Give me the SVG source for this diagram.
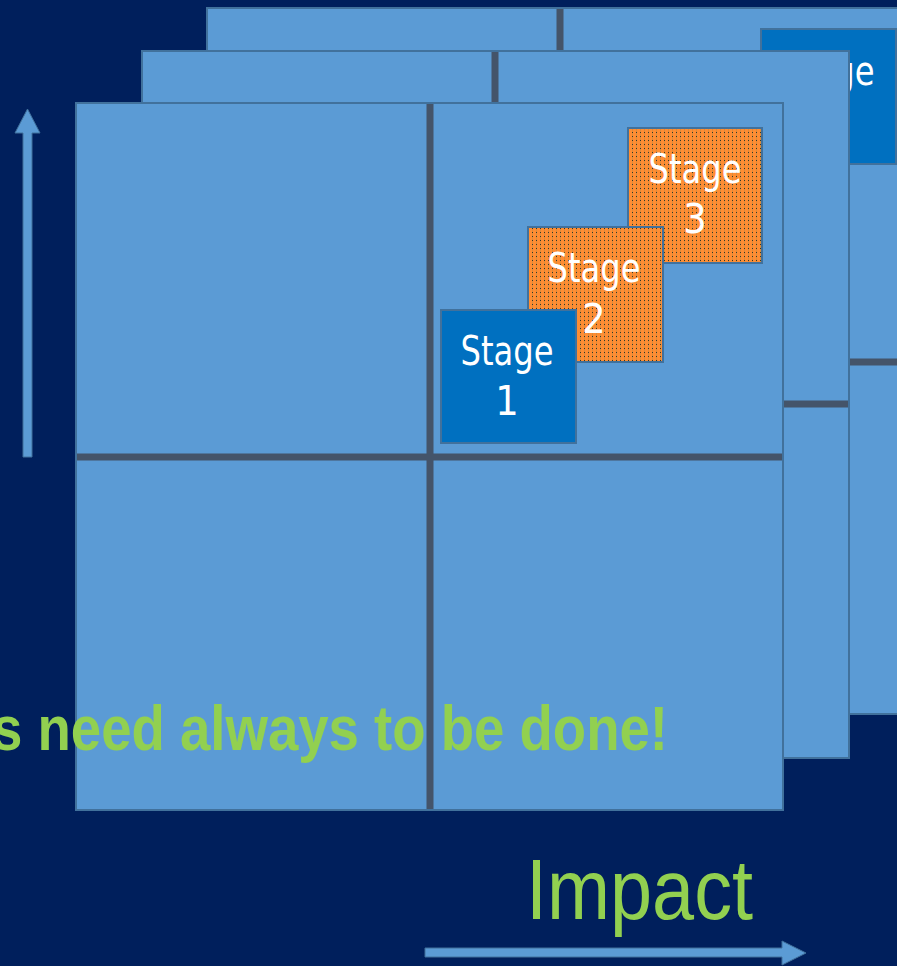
<svg xmlns="http://www.w3.org/2000/svg" width="897" height="966" viewBox="0 0 897 966">
  <style>
    .panel { fill: #5b9bd5; stroke: #41719c; stroke-width: 2; }
    .divider { stroke: #44546a; stroke-width: 7; }
    .stage-blue { fill: #0070c0; stroke: #41719c; stroke-width: 2; }
    .stage-orange { fill: url(#dots); stroke: #41719c; stroke-width: 2; }
    .stage-text { fill: #ffffff; font-family: "DejaVu Sans Condensed", "Liberation Sans", sans-serif; font-size: 41px; text-anchor: middle; }
    .green { fill: #92d050; font-family: "Liberation Sans", Arial, sans-serif; }
    .axis { fill: #5b9bd5; stroke: #41719c; stroke-width: 1; }
  </style>
  <defs>
    <!-- dotted orange fill for later stages -->
    <pattern id="dots" width="4" height="4" patternUnits="userSpaceOnUse">
      <rect width="4" height="4" fill="#ff8d33"/>
      <rect x="0" y="0" width="1" height="4" fill="#d98c3c"/>
      <rect x="0" y="0" width="1" height="1" fill="#34382a"/>
    </pattern>
  </defs>

  <rect width="897" height="966" fill="#001f5c"/>

  <!-- back grid -->
  <g id="grid-back">
    <rect class="panel" x="207" y="8" width="707" height="706"/>
    <line class="divider" x1="560" y1="9" x2="560" y2="713"/>
    <line class="divider" x1="208" y1="362" x2="897" y2="362"/>
  </g>
  <g id="stage-back">
    <rect class="stage-blue" x="761" y="29" width="135" height="135"/>
    <text class="stage-text"><tspan x="828" y="85" textLength="93" lengthAdjust="spacingAndGlyphs">Stage</tspan><tspan x="828" y="135">1</tspan></text>
  </g>

  <!-- middle grid -->
  <g id="grid-middle">
    <rect class="panel" x="142" y="51" width="707" height="707"/>
    <line class="divider" x1="495" y1="52" x2="495" y2="757"/>
    <line class="divider" x1="143" y1="404" x2="848" y2="404"/>
  </g>

  <!-- front grid -->
  <g id="grid-front">
    <rect class="panel" x="76" y="103" width="707" height="707"/>
    <line class="divider" x1="430" y1="104" x2="430" y2="809"/>
    <line class="divider" x1="77" y1="457" x2="782" y2="457"/>
  </g>

  <g id="stage-3">
    <rect class="stage-orange" x="628" y="128" width="134" height="135"/>
    <text class="stage-text"><tspan x="695" y="183" textLength="93" lengthAdjust="spacingAndGlyphs">Stage</tspan><tspan x="695" y="233">3</tspan></text>
  </g>
  <g id="stage-2">
    <rect class="stage-orange" x="528" y="227" width="135" height="135"/>
    <text class="stage-text"><tspan x="594" y="282" textLength="93" lengthAdjust="spacingAndGlyphs">Stage</tspan><tspan x="594" y="333">2</tspan></text>
  </g>
  <g id="stage-1">
    <rect class="stage-blue" x="441" y="310" width="135" height="133"/>
    <text class="stage-text"><tspan x="507" y="365" textLength="93" lengthAdjust="spacingAndGlyphs">Stage</tspan><tspan x="507" y="415">1</tspan></text>
  </g>

  <g id="note">
    <text class="green" x="-8" y="750" font-size="63" font-weight="bold" textLength="676" lengthAdjust="spacingAndGlyphs">s need always to be done!</text>
  </g>

  <g id="axes">
    <path class="axis" d="M27.5,109 L40,133 L32,133 L32,457 L23,457 L23,133 L15,133 Z"/>
    <path class="axis" d="M425,948 L782,948 L782,941 L806,953 L782,965 L782,957 L425,957 Z"/>
  </g>

  <g id="axis-label">
    <text class="green" x="526" y="919" font-size="85" textLength="227" lengthAdjust="spacingAndGlyphs">Impact</text>
  </g>
</svg>
